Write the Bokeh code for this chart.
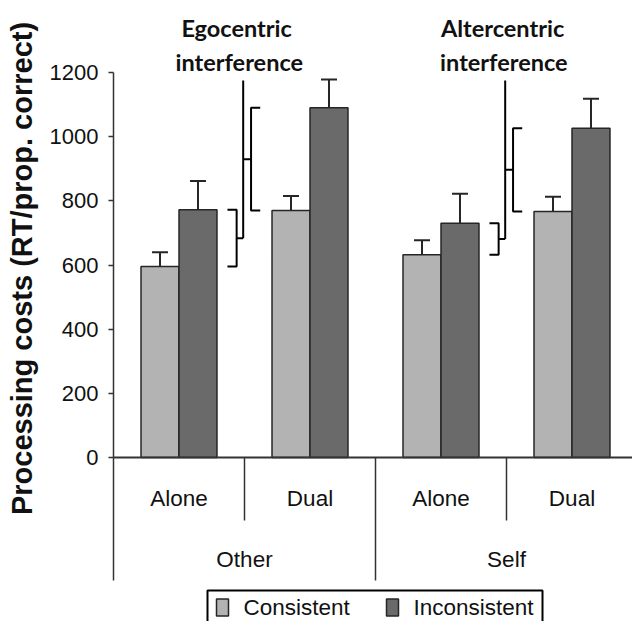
import math
from bokeh.plotting import figure
from bokeh.models import (ColumnDataSource, FixedTicker, Range1d, Whisker)
from bokeh.core.properties import value
from bokeh.embed import file_html
from bokeh.resources import INLINE

# ---- data ----
groups = ["Other", "Self"]
conditions = ["Alone", "Dual", "Alone", "Dual"]
consistent = [595, 770, 632, 767]
consistent_err = [45, 45, 45, 46]
inconsistent = [772, 1090, 730, 1026]
inconsistent_err = [90, 88, 92, 92]
y_ticks = [0, 200, 400, 600, 800, 1000, 1200]
annotations = ["Egocentric\ninterference", "Altercentric\ninterference"]
series_names = ["Consistent", "Inconsistent"]
y_title = "Processing costs (RT/prop. correct)"

LIGHT = "#b3b3b3"
DARK = "#6a6a6a"
EDGE = "#262626"
SANS = "Liberation Sans"

PX = 385 / 1200   # pixels per unit
H = 621
Y0 = 457          # pixel row of value 0
FB = 536          # frame bottom (frame centred on the y title)
LEFT = 113
CAT = 131         # pixels per category


def ux(px):       # page pixel column -> x data units
    return (px - LEFT) / CAT


def uy(py):       # page pixel row -> y data units
    return (Y0 - py) / PX


p = figure(width=632, height=H, output_backend="svg", toolbar_location=None,
           x_range=Range1d(0, ux(632)), y_range=Range1d(uy(FB), uy(0)),
           min_border_left=LEFT, min_border_right=0, min_border_top=0, min_border_bottom=H - FB,
           x_axis_location=None)
p.outline_line_color = None
p.xgrid.visible = False
p.ygrid.visible = False

n = len(conditions)
centers = [i + 0.5 for i in range(n)]
bw = 0.29
xc = [c - bw / 2 for c in centers]
xi = [c + bw / 2 for c in centers]

src_c = ColumnDataSource(dict(x=xc, top=consistent,
                              lo=[v - e for v, e in zip(consistent, consistent_err)],
                              hi=[v + e for v, e in zip(consistent, consistent_err)]))
src_i = ColumnDataSource(dict(x=xi, top=inconsistent,
                              lo=[v - e for v, e in zip(inconsistent, inconsistent_err)],
                              hi=[v + e for v, e in zip(inconsistent, inconsistent_err)]))

p.vbar(x="x", top="top", bottom=0, width=bw, source=src_c, fill_color=LIGHT,
       line_color=EDGE, line_width=1.5)
p.vbar(x="x", top="top", bottom=0, width=bw, source=src_i, fill_color=DARK,
       line_color=EDGE, line_width=1.5)

for s in (src_c, src_i):
    w = Whisker(base="x", lower="lo", upper="hi", source=s, line_color=EDGE, line_width=2)
    for h in (w.upper_head, w.lower_head):
        h.size = 16
        h.line_color = EDGE
        h.line_width = 2
    p.add_layout(w)

# ---- interference brackets ----
line_top = 1175
for g in range(len(groups)):
    a, d = 2 * g, 2 * g + 1
    b = d  # boundary between Alone and Dual
    lx = b - 0.01
    l0, l1 = consistent[a], inconsistent[a]
    lm = (l0 + l1) / 2
    p.line([b - 0.13, b - 0.06, b - 0.06, b - 0.13], [l1, l1, l0, l0], line_color="black", line_width=2)
    p.line([b - 0.06, lx], [lm, lm], line_color="black", line_width=2)
    r0, r1 = consistent[d], inconsistent[d]
    rm = (r0 + r1) / 2
    p.line([b + 0.12, b + 0.05, b + 0.05, b + 0.12], [r1, r1, r0, r0], line_color="black", line_width=2)
    p.line([lx, b + 0.05], [rm, rm], line_color="black", line_width=2)
    p.line([lx, lx], [lm, line_top], line_color="black", line_width=2)
    t1, t2 = annotations[g].split("\n")
    p.text(x=[lx - 0.05 + 0.03 * g, lx - 0.03 + 0.02 * g], y=[1340, 1233], text=[t1, t2],
           text_align="center", text_baseline="middle", text_font=value("Lato"),
           text_font_style="bold", text_font_size="23.5px", text_color="#111111")

# ---- x axis (drawn below the frame, so drawn at overlay level) ----
LV = "overlay"
p.line([0, ux(632)], [0, 0], line_color="#333333", line_width=2, level=LV)
p.line([0, 0], [0, uy(580)], line_color="#333333", line_width=1.5, level=LV)
for g in range(len(groups)):
    p.line([2 * g + 1, 2 * g + 1], [0, uy(520)], line_color="#333333", line_width=1.5, level=LV)
    p.line([2 * g + 2, 2 * g + 2], [0, uy(580)], line_color="#333333", line_width=1.5, level=LV)
p.text(x=centers, y=[uy(498)] * n, text=conditions, text_align="center", text_baseline="middle",
       text_font=value(SANS), text_font_size="22.5px", text_color="#111111", level=LV)
p.text(x=[2 * g + 1 for g in range(len(groups))], y=[uy(559)] * len(groups), text=groups,
       text_align="center", text_baseline="middle", text_font=value(SANS),
       text_font_size="22.5px", text_color="#111111", level=LV)

# ---- y axis ----
ya = p.yaxis[0]
ya.bounds = (0, 1200)
ya.ticker = FixedTicker(ticks=y_ticks)
ya.minor_tick_line_color = None
ya.major_tick_in = 0
ya.major_tick_out = 5
ya.axis_line_color = "#333333"
ya.axis_line_width = 1.5
ya.major_tick_line_color = "#333333"
ya.major_tick_line_width = 1.5
ya.major_label_text_font = SANS
ya.major_label_text_font_size = "22px"
ya.major_label_text_color = "#111111"
ya.major_label_standoff = 10
ya.axis_label = y_title
ya.axis_label_text_font = SANS
ya.axis_label_text_font_style = "bold"
ya.axis_label_text_font_size = "29px"
ya.axis_label_text_color = "#111111"
ya.axis_label_standoff = 9

# ---- legend (drawn with glyphs below the frame) ----
p.quad(left=[ux(207)], right=[ux(542)], top=[uy(590)], bottom=[uy(660)],
       fill_color="white", line_color="black", line_width=2, level=LV)
p.rect(x=[ux(222), ux(392)], y=[uy(607)] * 2, width=12, height=17, width_units="screen",
       height_units="screen", fill_color=[LIGHT, DARK], line_color=EDGE, line_width=1.5, level=LV)
p.text(x=[ux(243), ux(413)], y=[uy(607)] * 2, text=series_names, text_align="left",
       text_baseline="middle", text_font=value(SANS), text_font_size="22.5px",
       text_color="#111111", level=LV)

open("out.html", "w").write(file_html(p, INLINE))
